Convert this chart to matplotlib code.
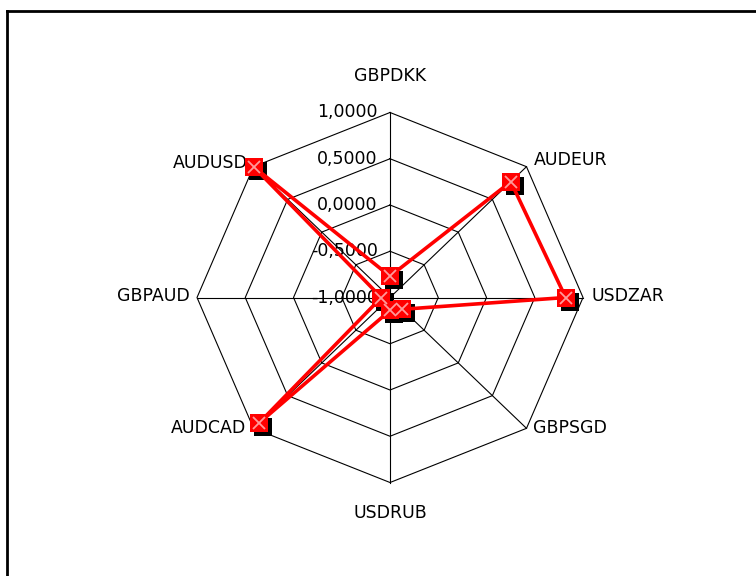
import numpy as np
import matplotlib
matplotlib.use('Agg')
import matplotlib.pyplot as plt
from matplotlib.lines import Line2D
from matplotlib.transforms import ScaledTranslation

# categories clockwise from the top
categories = ['GBPDKK', 'AUDEUR', 'USDZAR', 'GBPSGD', 'USDRUB', 'AUDCAD', 'GBPAUD', 'AUDUSD']
values = [-0.77, 0.77, 0.82, -0.82, -0.86, 0.92, -0.91, 1.0]
rings = [-1.0, -0.5, 0.0, 0.5, 1.0]
ring_labels = ['-1,0000', '-0,5000', '0,0000', '0,5000', '1,0000']

plt.rcParams['font.family'] = 'DejaVu Sans'
fig = plt.figure(figsize=(7.56, 5.76), dpi=100)
ax = fig.add_axes([0.2606, 0.1623, 0.5106, 0.6424], projection='polar')
ax.set_aspect('auto')
ax.set_theta_zero_location('N')
ax.set_theta_direction(-1)
ax.set_ylim(-1, 1)
ax.grid(False)
ax.spines['polar'].set_visible(False)
ax.set_xticks([])
ax.set_yticks([])
ax.patch.set_alpha(0)

n = len(categories)
theta = np.arange(n) * 2 * np.pi / n
theta_closed = np.append(theta, theta[0])

# octagon grid
for r in rings[1:]:
    ax.plot(theta_closed, [r] * (n + 1), color='black', lw=0.8, zorder=1, clip_on=False)
for t in theta:
    ax.plot([t, t], [-1, 1], color='black', lw=0.8, zorder=1, clip_on=False)

vals = np.append(values, values[0])
shadow = ax.transData + ScaledTranslation(4 / 100, -4 / 100, fig.dpi_scale_trans)
ax.plot(theta, values, ls='none', marker='s', ms=13, mew=0, color='black',
        transform=shadow, zorder=3, clip_on=False)
ax.plot(theta_closed, vals, color='#ff0000', lw=2.6, zorder=4, clip_on=False)
ax.plot(theta, values, ls='none', marker='s', ms=13, mew=0, color='#ff0000', zorder=5, clip_on=False)
ax.plot(theta, values, ls='none', marker='x', ms=8, mew=1.3, color='#ff9a9a', zorder=6, clip_on=False)

# category labels: offsets in points from the outer vertex
offsets = {
    'GBPDKK': (0, 26, 'center'),
    'AUDEUR': (5, 5, 'left'),
    'USDZAR': (6, 1, 'left'),
    'GBPSGD': (5, 0, 'left'),
    'USDRUB': (0, -22, 'center'),
    'AUDCAD': (-5, 0, 'right'),
    'GBPAUD': (-5, 1, 'right'),
    'AUDUSD': (-4, 3, 'right'),
}
for t, c in zip(theta, categories):
    dx, dy, ha = offsets[c]
    ax.annotate(c, xy=(t, 1), xytext=(dx, dy), textcoords='offset points',
                ha=ha, va='center', fontsize=12.5, annotation_clip=False)

for r, lab in zip(rings, ring_labels):
    ax.annotate(lab, xy=(0, r), xytext=(-9, 0), textcoords='offset points',
                ha='right', va='center', fontsize=12.5, zorder=2, annotation_clip=False)

# outer frame
fig.add_artist(Line2D([7 / 756, 7 / 756], [0, 1 - 11 / 576], color='black', lw=2, transform=fig.transFigure))
fig.add_artist(Line2D([7 / 756, 1], [1 - 11 / 576, 1 - 11 / 576], color='black', lw=2, transform=fig.transFigure))

fig.savefig('out.png', dpi=100, facecolor='white')
